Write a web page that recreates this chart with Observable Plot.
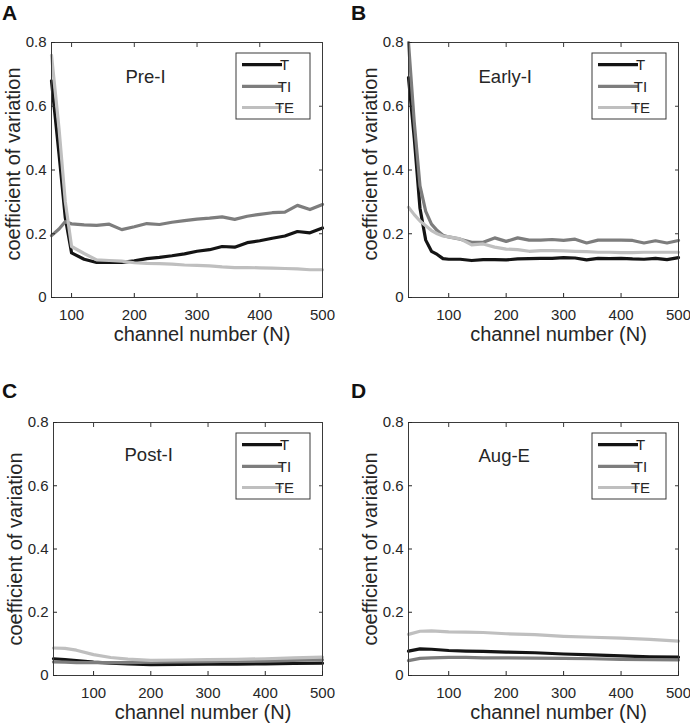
<!DOCTYPE html>
<html>
<head>
<meta charset="utf-8">
<script src="https://cdn.jsdelivr.net/npm/d3@7"></script>
<script src="https://cdn.jsdelivr.net/npm/@observablehq/plot@0.6"></script>
<style>
  body { margin: 0; background: #fff; }
  #fig { position: relative; width: 690px; height: 728px; background: #fff;
         font-family: "Liberation Sans", Arial, sans-serif; }
  .panel { position: absolute; }
  .letter { position: absolute; font-weight: bold; font-size: 21px; color: #111;
            font-family: "Liberation Sans", Arial, sans-serif; line-height: 1; }
</style>
</head>
<body>
<div id="fig"></div>
<script>
// ---------- data ----------
const series = ["T", "TI", "TE"];
const seriesColors = ["#141414", "#7d7d7d", "#bfbfbf"];
const xTicks = [100, 200, 300, 400, 500];
const yTicks = [0, 0.2, 0.4, 0.6, 0.8];

// Panel A: Pre-I
const preI_N  = [68, 80, 90, 100, 120, 140, 160, 180, 200, 220, 240, 260, 280, 300, 320, 340, 360, 380, 400, 420, 440, 460, 480, 500];
const preI_T  = [0.68, 0.45, 0.25, 0.14, 0.12, 0.11, 0.11, 0.11, 0.115, 0.122, 0.126, 0.131, 0.137, 0.145, 0.15, 0.16, 0.158, 0.172, 0.178, 0.186, 0.193, 0.207, 0.203, 0.218];
const preI_TI = [0.194, 0.215, 0.238, 0.231, 0.228, 0.226, 0.23, 0.213, 0.222, 0.232, 0.229, 0.236, 0.241, 0.246, 0.249, 0.253, 0.245, 0.255, 0.261, 0.266, 0.268, 0.289, 0.276, 0.292];
const preI_TE = [0.76, 0.53, 0.3, 0.16, 0.138, 0.118, 0.116, 0.114, 0.109, 0.107, 0.106, 0.105, 0.102, 0.101, 0.099, 0.096, 0.094, 0.094, 0.093, 0.092, 0.091, 0.09, 0.087, 0.087];

// Panel B: Early-I
const earlyI_N  = [30, 40, 50, 60, 70, 80, 90, 100, 120, 140, 160, 180, 200, 220, 240, 260, 280, 300, 320, 340, 360, 380, 400, 420, 440, 460, 480, 500];
const earlyI_T  = [0.69, 0.5, 0.28, 0.18, 0.145, 0.135, 0.122, 0.12, 0.12, 0.116, 0.119, 0.119, 0.118, 0.121, 0.122, 0.123, 0.123, 0.125, 0.124, 0.118, 0.123, 0.122, 0.123, 0.121, 0.12, 0.123, 0.119, 0.125];
const earlyI_TI = [0.8, 0.55, 0.35, 0.27, 0.23, 0.21, 0.195, 0.19, 0.183, 0.173, 0.173, 0.187, 0.176, 0.187, 0.18, 0.18, 0.182, 0.179, 0.183, 0.171, 0.18, 0.18, 0.18, 0.179, 0.171, 0.178, 0.171, 0.179];
const earlyI_TE = [0.283, 0.26, 0.24, 0.225, 0.21, 0.2, 0.193, 0.19, 0.184, 0.165, 0.168, 0.158, 0.152, 0.15, 0.145, 0.147, 0.147, 0.146, 0.145, 0.144, 0.142, 0.142, 0.141, 0.141, 0.142, 0.142, 0.142, 0.142];

// Panel C: Post-I
const postI_N  = [30, 50, 70, 100, 130, 160, 200, 250, 300, 350, 400, 450, 500];
const postI_T  = [0.053, 0.05, 0.047, 0.042, 0.039, 0.037, 0.034, 0.035, 0.036, 0.036, 0.037, 0.038, 0.039];
const postI_TI = [0.043, 0.042, 0.041, 0.041, 0.041, 0.041, 0.042, 0.043, 0.044, 0.045, 0.046, 0.048, 0.05];
const postI_TE = [0.087, 0.086, 0.08, 0.066, 0.057, 0.052, 0.048, 0.049, 0.05, 0.051, 0.053, 0.056, 0.058];

// Panel D: Aug-E
const augE_N  = [30, 50, 70, 100, 130, 160, 200, 250, 300, 350, 400, 450, 500];
const augE_T  = [0.077, 0.084, 0.083, 0.079, 0.077, 0.076, 0.074, 0.072, 0.068, 0.065, 0.062, 0.059, 0.058];
const augE_TI = [0.047, 0.054, 0.056, 0.057, 0.057, 0.056, 0.056, 0.055, 0.054, 0.053, 0.051, 0.05, 0.049];
const augE_TE = [0.13, 0.14, 0.141, 0.138, 0.137, 0.136, 0.132, 0.129, 0.124, 0.121, 0.118, 0.114, 0.109];

const panels = [
  {letter: "A", title: "Pre-I",   N: preI_N,   vals: [preI_T, preI_TI, preI_TE],       xdom: [68, 500],
   left: 0,   top: 0,   height: 352, mL: 51, mR: 23, mT: 42, mB: 55, titleDx: 74, titleDy: 40, xlabDy: 37, ylabDy: -6},
  {letter: "B", title: "Early-I", N: earlyI_N, vals: [earlyI_T, earlyI_TI, earlyI_TE], xdom: [30, 500],
   left: 345, top: 0,   height: 352, mL: 63, mR: 12, mT: 42, mB: 55, titleDx: 70, titleDy: 40, xlabDy: 37, ylabDy: -6},
  {letter: "C", title: "Post-I",  N: postI_N,  vals: [postI_T, postI_TI, postI_TE],    xdom: [30, 500],
   left: 0,   top: 364, height: 364, mL: 53, mR: 23, mT: 58, mB: 53, titleDx: 71, titleDy: 38, xlabDy: 37, ylabDy: 0},
  {letter: "D", title: "Aug-E",   N: augE_N,   vals: [augE_T, augE_TI, augE_TE],       xdom: [30, 500],
   left: 345, top: 364, height: 364, mL: 63, mR: 12, mT: 58, mB: 53, titleDx: 70, titleDy: 39, xlabDy: 37, ylabDy: 0}
];

const font = "'Liberation Sans', Arial, sans-serif";
const ink = "#262626";
const frameColor = "#3a3a3a";
const yFmt = d => d === 0 ? "0" : d.toFixed(1);

const fig = document.getElementById("fig");

for (const p of panels) {
  const rows = [];
  series.forEach((s, i) => p.vals[i].forEach((v, j) => rows.push({N: p.N[j], v, s})));

  const plot = Plot.plot({
    width: 345,
    height: p.height,
    marginLeft: p.mL, marginRight: p.mR, marginTop: p.mT, marginBottom: p.mB,
    style: {fontFamily: font, fontSize: "15px", color: ink, background: "white", overflow: "visible"},
    x: {domain: p.xdom},
    y: {domain: [0, 0.8]},
    color: {domain: series, range: seriesColors},
    marks: [
      Plot.line(rows, {x: "N", y: "v", stroke: "s", strokeWidth: 3.2, strokeLinejoin: "round"}),
      Plot.frame({stroke: frameColor, strokeWidth: 1}),
      Plot.axisX(xTicks, {anchor: "bottom", tickSize: -4, tickPadding: 16, fontSize: 15, color: ink, label: null}),
      Plot.axisX(xTicks, {anchor: "top", tickSize: -4, tickFormat: () => "", color: frameColor, label: null}),
      Plot.axisY(yTicks, {anchor: "left", tickSize: -4, tickPadding: 9, tickFormat: yFmt, fontSize: 15, color: ink, label: null}),
      Plot.axisY(yTicks, {anchor: "right", tickSize: -4, tickFormat: () => "", color: frameColor, label: null}),
      Plot.text([p.title], {frameAnchor: "top-left", textAnchor: "start", lineAnchor: "bottom",
                            dx: p.titleDx, dy: p.titleDy, fontSize: 18.5, fill: ink}),
      Plot.text(["channel number (N)"], {frameAnchor: "bottom", textAnchor: "middle", lineAnchor: "middle",
                            dx: 15, dy: p.xlabDy, fontSize: 20, fill: ink}),
      Plot.text(["coefficient of variation"], {frameAnchor: "left", textAnchor: "middle", lineAnchor: "middle", rotate: -90,
                            dx: -38, dy: p.ylabDy, fontSize: 20, fill: ink})
    ]
  });

  // legend box (MATLAB style) in the upper-right corner of the axes
  const xr = plot.scale("x").range;
  const yr = plot.scale("y").range;
  const right = Math.max(...xr), topY = Math.min(...yr);
  const bw = 74, bh = 66;
  const bx = right - 12 - bw, by = topY + 11;
  const svg = d3.select(plot);
  const g = svg.append("g");
  g.append("rect").attr("x", bx).attr("y", by).attr("width", bw).attr("height", bh)
    .attr("fill", "white").attr("stroke", frameColor).attr("stroke-width", 1);
  const rowY = [11.6, 33.3, 54.5];
  series.forEach((s, i) => {
    g.append("line").attr("x1", bx + 6).attr("x2", bx + 46)
      .attr("y1", by + rowY[i]).attr("y2", by + rowY[i])
      .attr("stroke", seriesColors[i]).attr("stroke-width", 3.2);
    g.append("text").attr("x", bx + 48.5).attr("y", by + rowY[i]).attr("dy", "0.35em")
      .attr("font-size", 15).attr("fill", ink).attr("font-family", font).text(s);
  });

  const div = document.createElement("div");
  div.className = "panel";
  div.style.left = p.left + "px";
  div.style.top = p.top + "px";
  div.appendChild(plot);
  fig.appendChild(div);

  const letter = document.createElement("div");
  letter.className = "letter";
  letter.textContent = p.letter;
  letter.style.left = (p.left + (p.left ? 6 : 2)) + "px";
  letter.style.top = (p.top + (p.top ? 16 : 2)) + "px";
  fig.appendChild(letter);
}
</script>
</body>
</html>
